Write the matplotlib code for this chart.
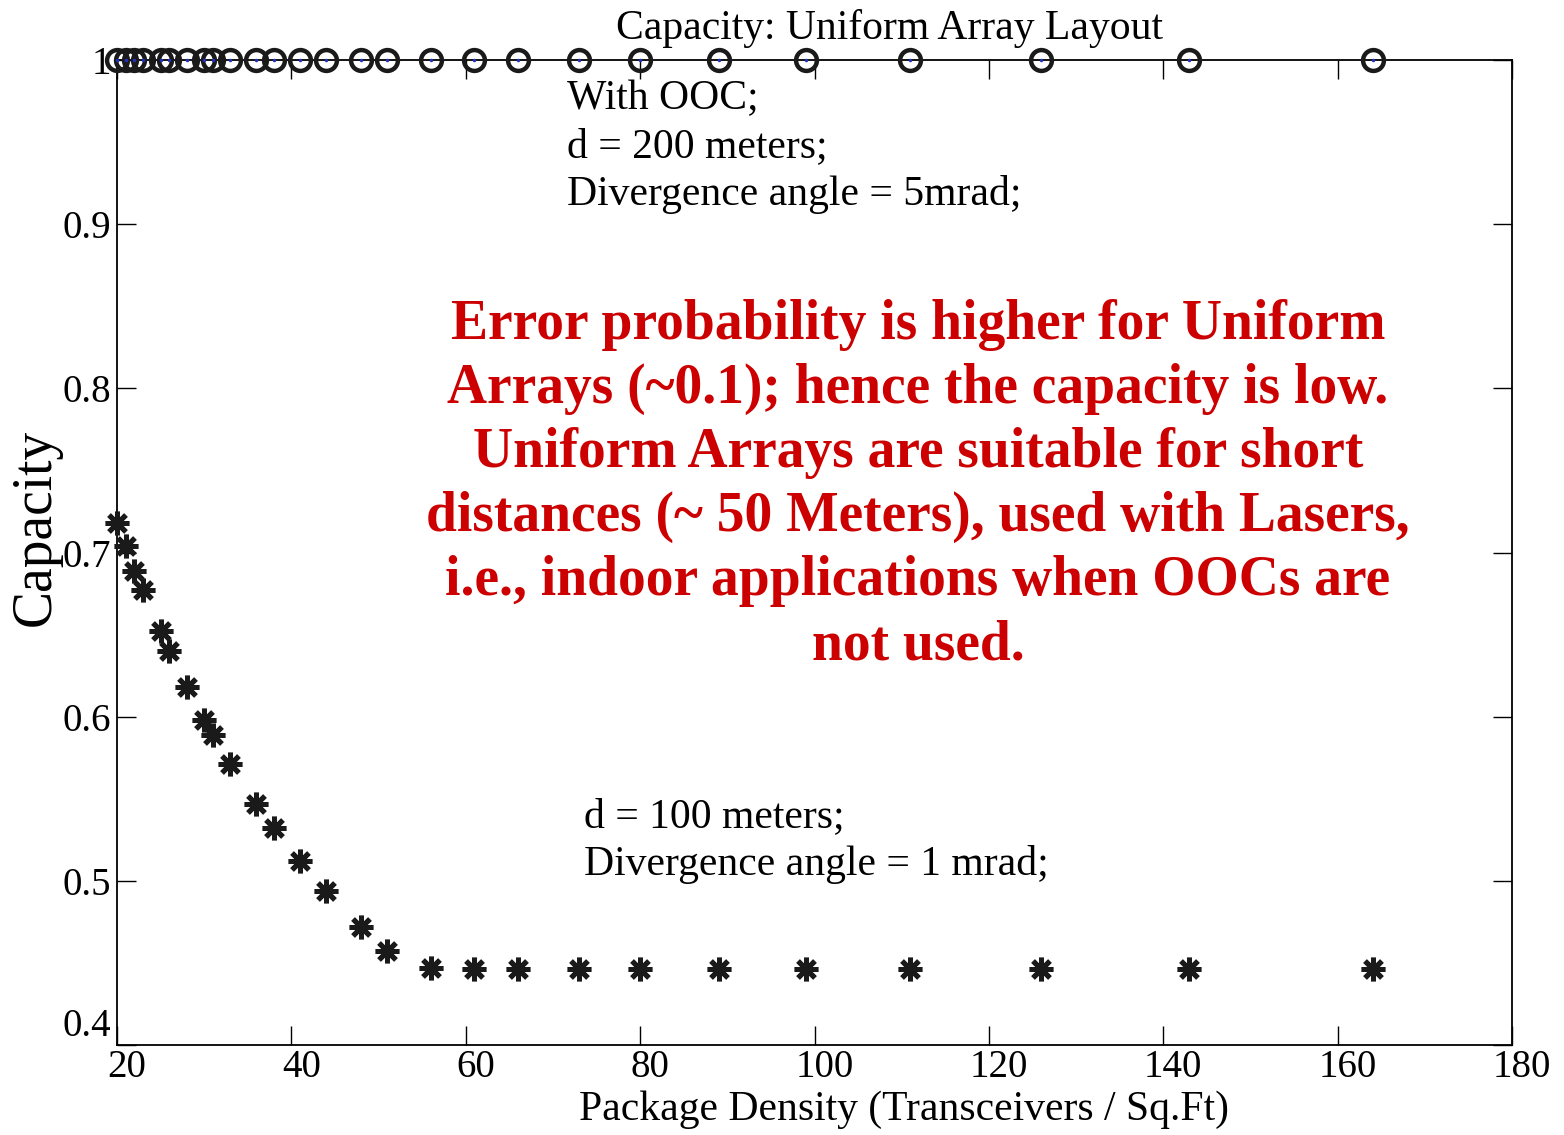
# Librairies externes
import matplotlib.pyplot as plt
from matplotlib.transforms import ScaledTranslation

# Données
DENSITE = [20, 21, 22, 23, 25, 26, 28, 30, 31, 33, 36, 38, 41, 44, 48, 51,
           56, 61, 66, 73, 80, 89, 99, 111, 126, 143, 164]
CAPACITE_OOC = [1.0] * len(DENSITE)
CAPACITE_SANS_OOC = [0.718, 0.704, 0.689, 0.677, 0.652, 0.640, 0.618, 0.598,
                     0.589, 0.571, 0.547, 0.532, 0.512, 0.494, 0.472, 0.457,
                     0.447, 0.446, 0.446, 0.446, 0.446, 0.446, 0.446, 0.446,
                     0.446, 0.446, 0.446]

X_TICKS = [20, 40, 60, 80, 100, 120, 140, 160, 180]
Y_TICKS = [0.4, 0.5, 0.6, 0.7, 0.8, 0.9, 1.0]
Y_LABELS = ['0.4', '0.5', '0.6', '0.7', '0.8', '0.9', '1']

TITRE = 'Capacity: Uniform Array Layout'
ETIQUETTE_X = 'Package Density (Transceivers / Sq.Ft)'
ETIQUETTE_Y = 'Capacity'
NOTE_OOC = 'With OOC;\nd = 200 meters;\nDivergence angle = 5mrad;'
NOTE_SANS_OOC = 'd = 100 meters;\nDivergence angle = 1 mrad;'
NOTE_ROUGE = ('Error probability is higher for Uniform\n'
              'Arrays (~0.1); hence the capacity is low.\n'
              'Uniform Arrays are suitable for short\n'
              'distances (~ 50 Meters), used with Lasers,\n'
              'i.e., indoor applications when OOCs are\n'
              'not used.')

# Constantes de style
__POLICE = 'Liberation Serif'
__TAILLE = 28  # Taille des graduations
__TAILLE_TEXTE = 30  # Taille des titres et notes
__ROUGE = '#CC0000'


def tracer_capacite():
    """
    Trace la capacité en fonction de la densité des transceivers.
    """
    plt.rcParams['font.family'] = [__POLICE, 'DejaVu Serif']

    fig = plt.figure(figsize=(15.64, 11.35), dpi=100)
    ax = fig.add_axes([0.0748, 0.0793, 0.892, 0.8678])

    # Avec OOC : cercles
    ax.plot(DENSITE, CAPACITE_OOC, linestyle='none', marker='o',
            markersize=15, markerfacecolor='none', markeredgecolor='#1a1a1a',
            markeredgewidth=3.2, clip_on=False, zorder=3)
    ax.plot(DENSITE, CAPACITE_OOC, linestyle='none', marker='.',
            markersize=3, color='#2030c0', clip_on=False, zorder=4)

    # Sans OOC : astérisques
    ax.plot(DENSITE, CAPACITE_SANS_OOC, linestyle='none', marker=(8, 2, 0),
            markersize=17, markeredgecolor='#1a1a1a', markeredgewidth=3.6,
            clip_on=False, zorder=3)

    # Axes
    ax.set_xlim(20, 180)
    ax.set_ylim(0.4, 1.0)
    ax.set_xticks(X_TICKS)
    ax.set_yticks(Y_TICKS)
    ax.set_yticklabels(Y_LABELS)
    ax.tick_params(direction='in', length=14, width=1, top=True, right=True,
                   labelsize=__TAILLE)
    ax.tick_params(axis='x', pad=3)
    ax.tick_params(axis='y', pad=4)
    for spine in ax.spines.values():
        spine.set_linewidth(1.3)

    # Décaler les étiquettes x vers la droite, comme sur l'original
    decalage = ScaledTranslation(0.10, 0, fig.dpi_scale_trans)
    for etiquette in ax.get_xticklabels():
        etiquette.set_transform(etiquette.get_transform() + decalage)

    # Remonter l'étiquette 0.4 au-dessus de l'axe x
    ax.get_yticklabels()[0].set_verticalalignment('bottom')

    # Textes
    fig.text(0.569, 0.975, TITRE, ha='center', va='center', fontsize=__TAILLE_TEXTE)
    fig.text(0.578, 0.022, ETIQUETTE_X, ha='center', va='center',
             fontsize=__TAILLE_TEXTE)
    fig.text(0.023, 1 - 527 / 1135, ETIQUETTE_Y, ha='center', va='center',
             rotation=90, fontsize=40)

    fig.text(567 / 1564, 1 - 80 / 1135, NOTE_OOC, ha='left', va='top',
             fontsize=__TAILLE_TEXTE, linespacing=1.3)
    fig.text(584 / 1564, 1 - 798 / 1135, NOTE_SANS_OOC, ha='left', va='top',
             fontsize=__TAILLE_TEXTE, linespacing=1.3)
    fig.text(918 / 1564, 1 - 485 / 1135, NOTE_ROUGE, ha='center', va='center',
             fontsize=40, fontweight='bold', color=__ROUGE, linespacing=1.3)

    fig.savefig('out.png', dpi=100)


if __name__ == '__main__':

    tracer_capacite()
